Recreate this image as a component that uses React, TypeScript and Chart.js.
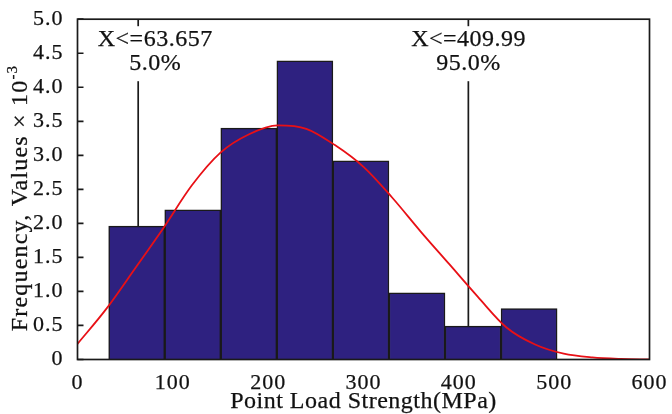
import React, { useEffect, useRef } from 'react';
import { Chart, registerables } from 'chart.js';

Chart.register(...registerables);

// Histogram bins (MPa) and heights (x 10^-3)
const binEdges = [32.7, 91.5, 150.3, 209.1, 267.9, 326.7, 385.5, 444.3, 503.1];
const binHeights = [1.96, 2.2, 3.4, 4.39, 2.92, 0.98, 0.49, 0.75];

// Fitted density curve
const curveX = [0, 30, 60, 90, 120, 150, 180, 210, 240, 270, 300, 330, 360, 390, 420, 450, 480, 510, 540, 570, 600];
const curveY = [0.23, 0.74, 1.33, 1.93, 2.56, 3.04, 3.31, 3.44, 3.39, 3.15, 2.83, 2.38, 1.88, 1.4, 0.92, 0.47, 0.22, 0.085, 0.03, 0.008, 0.0];

// Percentile markers
const markerValues = [63.657, 409.99];
const markerPercents = ['5.0%', '95.0%'];

// Axis ticks
const xTicks = [0, 100, 200, 300, 400, 500, 600];
const yTicks = [0, 0.5, 1.0, 1.5, 2.0, 2.5, 3.0, 3.5, 4.0, 4.5, 5.0];

const xTitle = 'Point Load Strength(MPa)';
const yTitleMain = 'Frequency, Values × 10';
const yTitleSup = '-3';

const SERIF = '"Liberation Serif", "Times New Roman", serif';
const INK = '#1a1a1a';
const TEXT = '#111111';
const STROKE = 0.25;

export default function App() {
  const canvasRef = useRef<HTMLCanvasElement | null>(null);

  useEffect(() => {
    const canvas = canvasRef.current;
    if (!canvas) return;

    const centers = binHeights.map((_, i) => (binEdges[i] + binEdges[i + 1]) / 2);
    const barData = binHeights.map((h, i) => ({ x: centers[i], y: h }));
    const curveData = curveX.map((x, i) => ({ x, y: curveY[i] }));

    const spacingPlugin = {
      id: 'spacing',
      beforeDraw(chart: any) {
        chart.ctx.letterSpacing = '1px';
      },
    };

    const markerLinesPlugin = {
      id: 'markerLines',
      beforeDatasetsDraw(chart: any) {
        const { ctx, chartArea, scales } = chart;
        ctx.save();
        ctx.strokeStyle = INK;
        ctx.lineWidth = 1.7;
        markerValues.forEach((v) => {
          const px = scales.x.getPixelForValue(v);
          ctx.beginPath();
          ctx.moveTo(px, chartArea.top);
          ctx.lineTo(px, scales.y.getPixelForValue(0));
          ctx.stroke();
        });
        ctx.restore();
      },
    };

    const framePlugin = {
      id: 'frame',
      afterDatasetsDraw(chart: any) {
        const { ctx, chartArea, scales } = chart;
        ctx.save();
        ctx.strokeStyle = INK;
        ctx.lineWidth = 1.7;
        ctx.strokeRect(chartArea.left, chartArea.top, chartArea.right - chartArea.left, chartArea.bottom - chartArea.top);
        ctx.beginPath();
        yTicks.forEach((t) => {
          const py = scales.y.getPixelForValue(t);
          ctx.moveTo(chartArea.left, py);
          ctx.lineTo(chartArea.left + 6, py);
        });
        ctx.stroke();
        ctx.restore();
      },
    };

    const drawText = (ctx: any, s: string, x: number, y: number) => {
      ctx.strokeText(s, x, y);
      ctx.fillText(s, x, y);
    };

    const textPlugin = {
      id: 'texts',
      afterDraw(chart: any) {
        const { ctx, chartArea, scales } = chart;
        ctx.save();
        ctx.fillStyle = TEXT;
        ctx.strokeStyle = TEXT;
        ctx.lineWidth = STROKE;
        ctx.letterSpacing = '0.5px';
        ctx.font = `24px ${SERIF}`;
        ctx.textBaseline = 'alphabetic';
        ctx.textAlign = 'center';
        markerValues.forEach((v, i) => {
          const lines = [`X<=${v}`, markerPercents[i]];
          const px = scales.x.getPixelForValue(v);
          const w = Math.max(...lines.map((l) => ctx.measureText(l).width));
          const cx = Math.max(px, chartArea.left + 20 + w / 2);
          ctx.fillStyle = '#ffffff';
          ctx.fillRect(cx - w / 2 - 3, chartArea.top + 7, w + 6, 55);
          ctx.fillStyle = TEXT;
          drawText(ctx, lines[0], cx + 0.25, 46);
          drawText(ctx, lines[1], cx + 0.25, 70);
        });

        // x title
        ctx.font = `24px ${SERIF}`;
        ctx.letterSpacing = '0.5px';
        ctx.textAlign = 'center';
        drawText(ctx, xTitle, (chartArea.left + chartArea.right) / 2, 407.5);

        // y title with superscript
        ctx.translate(27, 198);
        ctx.rotate(-Math.PI / 2);
        ctx.textAlign = 'left';
        ctx.letterSpacing = '1.2px';
        ctx.font = `24px ${SERIF}`;
        const wMain = ctx.measureText(yTitleMain).width;
        ctx.font = `15px ${SERIF}`;
        const wSup = ctx.measureText(yTitleSup).width;
        const start = -(wMain + wSup) / 2;
        ctx.font = `24px ${SERIF}`;
        drawText(ctx, yTitleMain, start, 0);
        ctx.font = `15px ${SERIF}`;
        drawText(ctx, yTitleSup, start + wMain, -10);
        ctx.restore();
      },
    };

    const chart = new Chart(canvas, {
      type: 'bar',
      data: {
        datasets: [
          {
            type: 'line',
            data: curveData,
            borderColor: 'rgb(232, 16, 22)',
            borderWidth: 1.8,
            pointRadius: 0,
            fill: false,
            cubicInterpolationMode: 'monotone',
            order: 0,
          } as any,
          {
            type: 'bar',
            data: barData,
            backgroundColor: '#2e2180',
            borderColor: INK,
            borderWidth: 1.5,
            barPercentage: 1,
            categoryPercentage: 1,
            grouped: false,
            order: 1,
          } as any,
        ],
      },
      options: {
        responsive: true,
        maintainAspectRatio: false,
        animation: false,
        layout: { padding: { top: 16, right: 22.5, left: 0, bottom: 0 } },
        plugins: {
          legend: { display: false },
          tooltip: { enabled: false },
        },
        scales: {
          x: {
            type: 'linear',
            min: 0,
            max: 600,
            offset: false,
            grid: { display: false },
            border: { display: false },
            afterBuildTicks: (s: any) => {
              s.ticks = xTicks.map((v) => ({ value: v }));
            },
            afterFit: (s: any) => {
              s.height = 54.5;
            },
            ticks: {
              autoSkip: false,
              maxRotation: 0,
              minRotation: 0,
              padding: 3,
              color: TEXT,
              textStrokeColor: TEXT,
              textStrokeWidth: STROKE,
              font: { family: SERIF, size: 22 },
              callback: (v: any) => String(v),
            },
          },
          y: {
            type: 'linear',
            min: 0,
            max: 5,
            grid: { display: false },
            border: { display: false },
            afterBuildTicks: (s: any) => {
              s.ticks = yTicks.map((v) => ({ value: v }));
            },
            afterFit: (s: any) => {
              s.width = 77.5;
            },
            ticks: {
              padding: 6,
              color: TEXT,
              textStrokeColor: TEXT,
              textStrokeWidth: STROKE,
              font: { family: SERIF, size: 22 },
              callback: (v: any) => (Number(v) === 0 ? '0' : Number(v).toFixed(1)),
            },
          },
        },
      },
      plugins: [spacingPlugin, markerLinesPlugin, framePlugin, textPlugin],
    } as any);

    return () => {
      chart.destroy();
    };
  }, []);

  return (
    <div style={{ position: 'absolute', left: 0, top: 0, width: 672, height: 414, background: '#fff' }}>
      <canvas ref={canvasRef} />
    </div>
  );
}
